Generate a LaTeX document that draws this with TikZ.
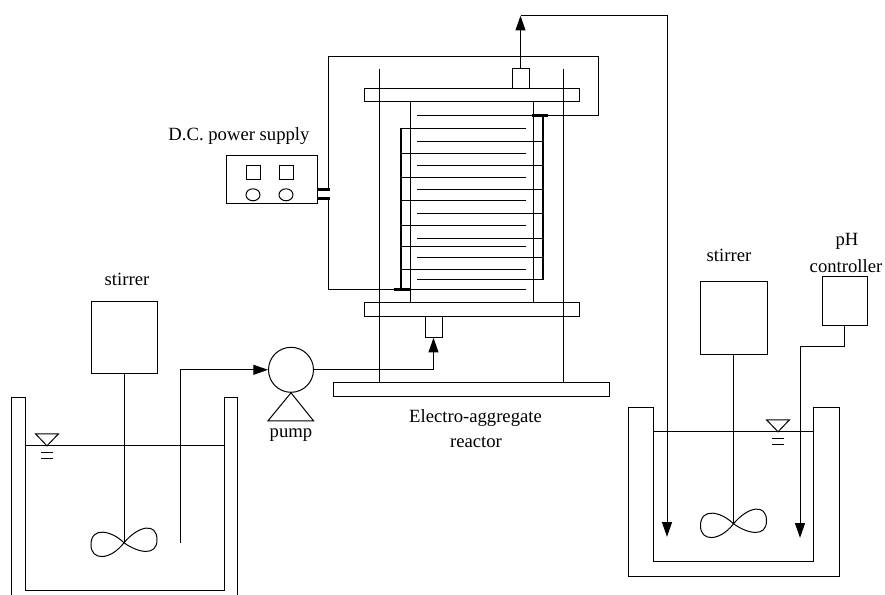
\documentclass[tikz,border=0pt]{standalone}
\usepackage{fontspec}
\setmainfont{Liberation Serif}
\usetikzlibrary{arrows.meta}
\tikzset{
  thin line/.style={line width=0.75pt,line join=miter},
  heavy/.style={line width=1.5pt},
  flow/.style={thin line,-{Triangle[length=11pt,width=7.5pt]}},
  boxn/.style={draw,thin line,inner sep=0pt,outer sep=0pt,fill=white},
  label text/.style={inner sep=0pt,font=\fontsize{14}{16}\selectfont,align=center},
  impeller/.pic={
    \draw[thin line] (0,0) .. controls (-12,-12) and (-33,-17) .. (-33,2)
      .. controls (-33,18) and (-14,18) .. (0,0)
      .. controls (14,-17) and (33,-21) .. (33,-3)
      .. controls (33,14) and (14,10) .. (0,0);
  },
  levelmark/.pic={
    \draw[thin line] (-11.5,-12) -- (11.5,-12) -- (0,0) -- cycle;
    \draw[thin line] (-6,7) -- (6,7) (-6,12.5) -- (6,12.5);
  }
}
\newcommand{\bx}[5]{\node[boxn,minimum width={(#4-#2)*0.75pt},minimum height={(#5-#3)*0.75pt}] (#1) at ({(#2+#4)/2},{(#3+#5)/2}) {};}
\begin{document}
\begin{tikzpicture}[x=0.75pt,y=-0.75pt]
\useasboundingbox (0,-0.8) rectangle (885,594.2);
% frame rods
\coordinate (rodLt) at (379,68); \coordinate (rodLb) at (379,382);
\coordinate (rodRt) at (563,68); \coordinate (rodRb) at (563,382);
% reactor
\bx{body}{410}{101}{533}{302}
\draw[thin line] (rodLt) -- (rodLb) (rodRt) -- (rodRb);
\node[draw,thin line,inner sep=0pt,minimum width=161.25pt,minimum height=9.75pt] (topplate) at (471.5,94.5) {};
\node[draw,thin line,inner sep=0pt,minimum width=161.25pt,minimum height=10.5pt] (botplate) at (471.5,309) {};
\bx{outlet}{512}{68}{529}{88}
\bx{inlet}{425}{316}{442}{337}
\bx{base}{333}{382}{609}{396}
% electrode plates
\coordinate (combLt) at (401,127.5); \coordinate (combLb) at (401,289);
\coordinate (combRt) at (543,115); \coordinate (combRb) at (543,279);
\foreach \y in {127.5,153,177,200,225,246,269}
  \draw[thin line] (401,\y) -- (526,\y);
\draw[thin line] (410,289) -- (526,289);
\foreach \y in {141,165,189,213,238,257,279}
  \draw[thin line] (417,\y) -- (543,\y);
\draw[thin line] (417,115) -- (532,115);
\draw[heavy] (combLt) -- (combLb);
\draw[heavy] (combRt) -- (combRb);
\draw[line width=2pt] (532,115) -- (548,115);
\draw[line width=2.2pt] (394,288.8) -- (410,288.8);
% power supply
\bx{ps}{226}{155}{317}{203}
\bx{psA}{246}{165}{260}{179}
\bx{psB}{279}{165}{293}{179}
\draw[thin line] (253,194) ellipse [x radius=7,y radius=6];
\draw[thin line] (286,194) ellipse [x radius=7,y radius=6];
\node[label text] (pslabel) at (239,135) {D.C. power supply};
\coordinate (wa) at (328,189); \coordinate (wb) at (328,198);
\draw[line width=2pt] (317,189) -- (330,189);
\draw[line width=2pt] (317,198) -- (330,198);
\draw[thin line] (wa) -- (328,56) -- (598,56) -- (598,115) -- (548,115);
\draw[thin line] (wb) -- (328,289) -- (394,289);
% left tank
\draw[thin line] (11,595) -- (11,397) -- (25,397) -- (25,590) -- (224,590) -- (224,397) -- (237,397) -- (237,595);
\draw[thin line] (25,445) -- (224,445);
\pic at (47,445) {levelmark};
\bx{stirL}{91}{301}{157}{373}
\node[label text] (stirLlabel) at (127,279) {stirrer};
\coordinate (impL) at (124,542);
\draw[thin line] (stirL.south) -- (impL);
\pic at (impL) {impeller};
% pump
\node[draw,thin line,circle,inner sep=0pt,minimum size=33.75pt] (pump) at (291,369) {};
\draw[thin line] (pump.south) -- (268,420) -- (313.5,420) -- cycle;
\node[label text] (pumplabel) at (291,434) {pump};
\coordinate (pipeL) at (180,542);
\draw[flow] (pipeL) -- (180,369) -- (pump.west);
\draw[flow] (pump.east) -- (433.5,369) -- (inlet.south);
\node[label text] (reactlabel) at (475.5,417) {Electro-aggregate};
\node[label text] (reactlabelc) at (476,442) {reactor};
% right tank
\draw[thin line] (628,407) -- (653,407) -- (653,561) -- (813,561) -- (813,407) -- (839,407) -- (839,576) -- (628,576) -- cycle;
\draw[thin line] (653,431) -- (813,431);
\pic at (778,431) {levelmark};
\bx{stirR}{700}{281}{767}{354}
\node[label text] (stirRlabel) at (729,255) {stirrer};
\coordinate (impR) at (733.5,523);
\draw[thin line] (stirR.south) -- (impR);
\pic at (impR) {impeller};
\bx{ph}{822}{276}{867}{325}
\node[label text] (phlabel) at (847,241) {pH};
\node[label text] (phlabelb) at (846,265) {controller};
\coordinate (phend) at (800,537);
\draw[flow] (ph.south) -- (844.5,346) -- (800,346) -- (phend);
% return line
\coordinate (retend) at (667,536);
\draw[flow] (outlet.north) -- (520.5,15);
\draw[flow] (520.5,14.5) -- (667,14.5) -- (retend);
\end{tikzpicture}
\end{document}
